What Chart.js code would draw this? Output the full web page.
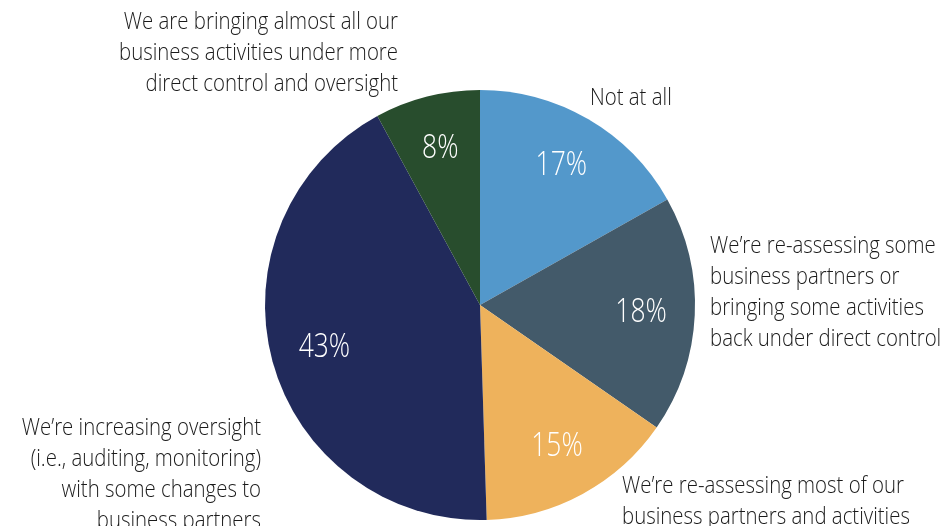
<!DOCTYPE html>
<html>
<head>
<meta charset="utf-8">
<script src="https://cdn.jsdelivr.net/npm/chart.js@4"></script>
<style>
  html, body { margin: 0; padding: 0; background: #fff; }
  #wrap { width: 942px; height: 526px; }
</style>
</head>
<body>
<div id="wrap"><canvas id="pie" width="942" height="526"></canvas></div>
<script>
// respuestas de la encuesta
var categorias = [
    ["Not at all"],
    ["We\u2019re re-assessing some", "business partners or", "bringing some activities", "back under direct control"],
    ["We\u2019re re-assessing most of our", "business partners and activities"],
    ["We\u2019re increasing oversight", "(i.e., auditing, monitoring)", "with some changes to", "business partners"],
    ["We are bringing almost all our", "business activities under more", "direct control and oversight"]
]
var porcentajes = [17, 18, 15, 43, 8]
var colores = ['#5398cb', '#435a6a', '#eeb25c', '#212a5b', '#284d2d']

var FUENTE = '"Open Sans", "Liberation Sans", sans-serif'
var ANGOSTO = 0.85   // la letra original es condensada

// donde va cada texto de categoria (x, y del centro de la primera linea, alineacion)
var posTextos = [
    {x: 590, y: 98, align: 'left'},
    {x: 710, y: 246, align: 'left'},
    {x: 622, y: 486, align: 'left'},
    {x: 261, y: 428, align: 'right'},
    {x: 398, y: 22, align: 'right'}
]

// escribe texto apretado horizontalmente
function textoAngosto(ctx, txt, x, y, f){
    ctx.save()
    ctx.translate(x, y)
    ctx.scale(f, 1)
    ctx.fillText(txt, 0, 0)
    ctx.restore()
}

const etiquetas = {
    id: 'etiquetas',
    afterDraw(chart){
        var ctx = chart.ctx
        var arcos = chart.getDatasetMeta(0).data
        ctx.save()
        // porcentajes dentro de cada porcion
        ctx.fillStyle = '#fff'
        ctx.font = '300 33px ' + FUENTE
        ctx.textAlign = 'center'
        ctx.textBaseline = 'middle'
        arcos.forEach(function(a, i){
            var ang = (a.startAngle + a.endAngle) / 2
            var r = a.outerRadius * 0.75
            textoAngosto(ctx, porcentajes[i] + '%', a.x + Math.cos(ang) * r, a.y + Math.sin(ang) * r, 0.8)
        })
        // textos de afuera
        ctx.fillStyle = '#1a1a1a'
        ctx.font = '300 24px ' + FUENTE
        categorias.forEach(function(lineas, i){
            var p = posTextos[i]
            ctx.textAlign = p.align
            lineas.forEach(function(l, j){
                textoAngosto(ctx, l, p.x, p.y + j * 31, ANGOSTO)
            })
        })
        ctx.restore()
    }
}

function crearGrafico(){
    var g = document.getElementById('pie').getContext('2d')
    new Chart(g, {
        type: 'pie',
        data: {
            labels: categorias.map(function(c){ return c.join(' ') }),
            datasets: [{
                data: porcentajes,
                backgroundColor: colores,
                borderWidth: 0
            }]
        },
        options: {
            responsive: false,
            maintainAspectRatio: false,
            animation: false,
            layout: { padding: {top: 90, bottom: 6, left: 265, right: 247} },
            plugins: {
                legend: { display: false },
                tooltip: { enabled: false }
            }
        },
        plugins: [etiquetas]
    })
}
document.addEventListener('DOMContentLoaded', crearGrafico)
</script>
</body>
</html>
